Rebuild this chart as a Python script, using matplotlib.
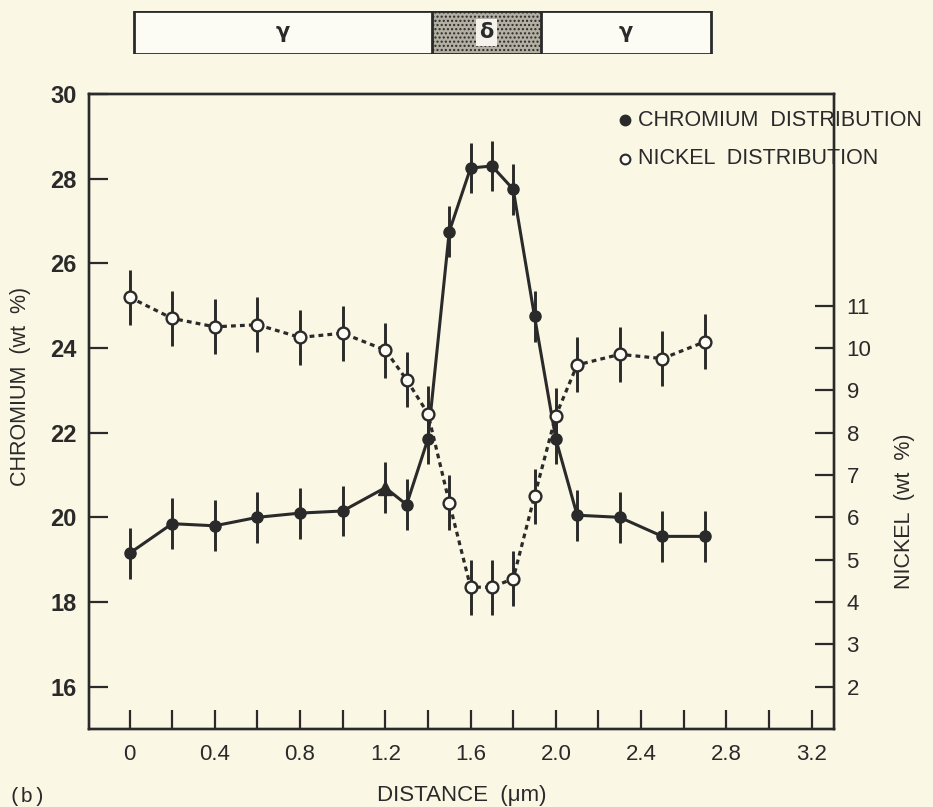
import numpy as np
import matplotlib
matplotlib.use('Agg')
import matplotlib.pyplot as plt
from matplotlib.patches import Rectangle
from matplotlib.lines import Line2D

# distance along the line scan (um)
dist = [0, 0.2, 0.4, 0.6, 0.8, 1.0, 1.2, 1.3, 1.4, 1.5, 1.6, 1.7, 1.8, 1.9, 2.0, 2.1, 2.3, 2.5, 2.7]
# chromium (wt %), left axis
chromium = [19.15, 19.85, 19.8, 20.0, 20.1, 20.15, 20.7, 20.3, 21.85, 26.75, 28.25, 28.3,
            27.75, 24.75, 21.85, 20.05, 20.0, 19.55, 19.55]
cr_err = 0.6
# nickel (wt %), right axis
nickel = [11.2, 10.7, 10.5, 10.55, 10.25, 10.35, 9.95, 9.25, 8.45, 6.35, 4.35, 4.35,
          4.55, 6.5, 8.4, 9.6, 9.85, 9.75, 10.15]
ni_err = 0.65
# phase bar on top: boundaries and names
phase_edges = [0.02, 1.42, 1.93, 2.73]
phase_names = ['γ', 'δ', 'γ']

xticks = [0, 0.4, 0.8, 1.2, 1.6, 2.0, 2.4, 2.8, 3.2]
xticklabels = ['0', '0.4', '0.8', '1.2', '1.6', '2.0', '2.4', '2.8', '3.2']
cr_ticks = [16, 18, 20, 22, 24, 26, 28, 30]
ni_ticks = [2, 3, 4, 5, 6, 7, 8, 9, 10, 11]

ink = '#2a2a2a'
paper = '#faf7e4'
plt.rcParams['font.family'] = ['Liberation Sans', 'DejaVu Sans']

fig = plt.figure(figsize=(9.33, 8.07), dpi=100, facecolor=paper)
ax = fig.add_axes([89/933, 1-729/807, 745/933, 635/807])
ax.set_facecolor(paper)
ax2 = ax.twinx()

ax.set_xlim(-0.19, 3.305)
ax.set_ylim(15, 30)
ax2.set_ylim(1, 16)

# chromium, solid line, filled circles (point at 1.2 drawn as triangle)
ax.errorbar(dist, chromium, yerr=cr_err, fmt='none', ecolor=ink, elinewidth=2.1, capsize=0, zorder=3)
ax.plot(dist, chromium, '-', color=ink, lw=2.2, zorder=4)
i12 = dist.index(1.2)
cr_x = [d for i, d in enumerate(dist) if i != i12]
cr_y = [c for i, c in enumerate(chromium) if i != i12]
ax.plot(cr_x, cr_y, 'o', ms=8, color=ink, zorder=5)
ax.plot([dist[i12]], [chromium[i12]], '^', ms=9.5, color=ink, zorder=5)

# nickel, dotted line, open circles
ax2.errorbar(dist, nickel, yerr=ni_err, fmt='none', ecolor=ink, elinewidth=2.1, capsize=0, zorder=3)
ax2.plot(dist, nickel, color=ink, lw=2.3, ls=(0, (1.5, 1.3)), zorder=4)
ax2.plot(dist, nickel, 'o', ms=8.5, mfc='#fdfcf4', mec=ink, mew=1.7, zorder=5)

for a in (ax, ax2):
    for s in a.spines.values():
        s.set_color(ink)
        s.set_linewidth(1.7)

ax.set_xticks(xticks)
ax.set_xticklabels(xticklabels)
ax.set_xticks(np.arange(0.2, 3.2, 0.4), minor=True)
ax.tick_params(axis='x', which='both', direction='in', length=14, width=1.6, color=ink,
               labelsize=16, labelcolor=ink, pad=11)
ax.set_yticks(cr_ticks)
ax.tick_params(axis='y', direction='in', length=14, width=1.6, color=ink,
               labelsize=17, labelcolor=ink, pad=9)
for t in ax.get_yticklabels():
    t.set_fontweight('bold')
ax2.set_yticks(ni_ticks)
ax2.tick_params(axis='y', direction='in', length=14, width=1.6, color=ink,
                labelsize=16, labelcolor=ink, pad=9)

ax.set_xlabel('DISTANCE  (μm)', fontsize=16, color=ink, labelpad=14)
ax.set_ylabel('CHROMIUM  (wt  %)', fontsize=15.5, color=ink)
ax.yaxis.set_label_coords(-58/745, 0.54)
ax2.set_ylabel('NICKEL  (wt  %)', fontsize=15.5, color=ink)
ax2.yaxis.set_label_coords(1 + 60/745, 0.343)

# legend
for yy, filled, txt in [(120, True, 'CHROMIUM  DISTRIBUTION'), (159, False, 'NICKEL  DISTRIBUTION')]:
    fig.add_artist(Line2D([625/933], [1-yy/807], marker='o', ms=7, color=ink,
                          mfc=ink if filled else '#fdfcf4', mew=1.5, transform=fig.transFigure))
    fig.text(638/933, 1-yy/807, txt, fontsize=15.5, color=ink, va='center', ha='left')

# phase bar
axb = fig.add_axes([89/933, 1-54/807, 745/933, 43/807])
axb.set_xlim(ax.get_xlim())
axb.set_ylim(0, 1)
axb.axis('off')
axb.add_patch(Rectangle((phase_edges[0], 0), phase_edges[3]-phase_edges[0], 1,
                        fc='#fdfcf4', ec=ink, lw=2))
axb.add_patch(Rectangle((phase_edges[1], 0), phase_edges[2]-phase_edges[1], 1,
                        fc='#b3afa2', ec=ink, lw=2, hatch='....'))
for i, name in enumerate(phase_names):
    xc = (phase_edges[i] + phase_edges[i+1]) / 2
    bb = dict(boxstyle='square,pad=0.15', fc='#f4f2ea', ec='none') if name == 'δ' else None
    axb.text(xc, 0.5, name, ha='center', va='center', fontsize=15, color=ink,
             fontweight='bold', family='DejaVu Sans', bbox=bb)

fig.text(8/933, 1-797/807, '(b)', fontsize=15, color=ink, family='Liberation Mono', va='center')

fig.savefig('out.png', dpi=100, facecolor=paper)
